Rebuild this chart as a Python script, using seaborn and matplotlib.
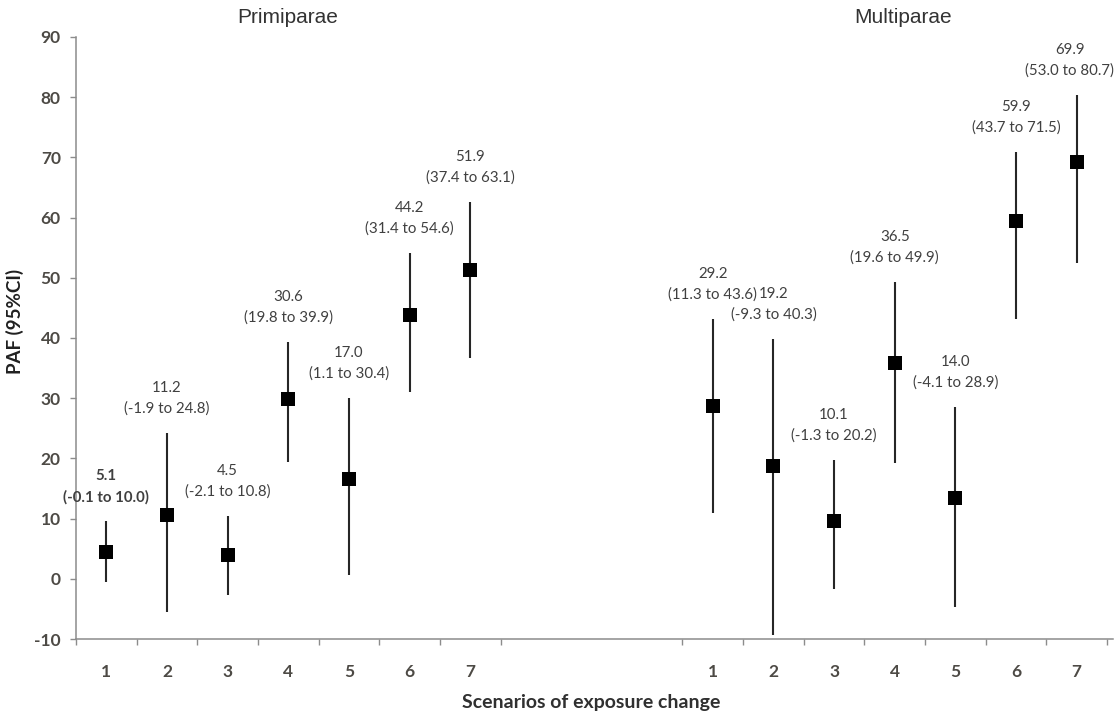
import matplotlib
matplotlib.use("Agg")
import pandas as pd
import matplotlib.pyplot as plt
import seaborn as sns

# scenarios of exposure change (same for both groups)
scenarios = ["1", "2", "3", "4", "5", "6", "7"]

# Primiparae - positions of the marks as drawn on the chart
prim_paf = [4.5, 10.6, 4.0, 29.9, 16.6, 43.9, 51.3]
prim_low = [-0.5, -5.5, -2.7, 19.4, 0.7, 31.0, 36.7]
prim_high = [9.6, 24.3, 10.5, 39.4, 30.1, 54.2, 62.6]
prim_est_txt = ["5.1", "11.2", "4.5", "30.6", "17.0", "44.2", "51.9"]
prim_ci_txt = ["(-0.1 to 10.0)", "(-1.9 to 24.8)", "(-2.1 to 10.8)", "(19.8 to 39.9)",
               "(1.1 to 30.4)", "(31.4 to 54.6)", "(37.4 to 63.1)"]

# Multiparae
multi_paf = [28.7, 18.8, 9.6, 35.9, 13.5, 59.5, 69.3]
multi_low = [11.0, -9.3, -1.7, 19.3, -4.6, 43.2, 52.5]
multi_high = [43.2, 39.9, 19.8, 49.3, 28.6, 70.9, 80.4]
multi_est_txt = ["29.2", "19.2", "10.1", "36.5", "14.0", "59.9", "69.9"]
multi_ci_txt = ["(11.3 to 43.6)", "(-9.3 to 40.3)", "(-1.3 to 20.2)", "(19.6 to 49.9)",
                "(-4.1 to 28.9)", "(43.7 to 71.5)", "(53.0 to 80.7)"]

# one category axis with a 3-slot gap between the two groups
GAP = 3
n = len(scenarios)
prim_pos = list(range(n))
multi_pos = [i + n + GAP for i in range(n)]

df = pd.DataFrame({
    "pos": prim_pos + multi_pos,
    "paf": prim_paf + multi_paf,
    "low": prim_low + multi_low,
    "high": prim_high + multi_high,
    "est": prim_est_txt + multi_est_txt,
    "ci": prim_ci_txt + multi_ci_txt,
    "group": ["Primiparae"] * n + ["Multiparae"] * n,
})

sns.set_style("ticks")
plt.rcParams["font.family"] = ["Lato", "DejaVu Sans"]
plt.rcParams["axes.unicode_minus"] = False

fig = plt.figure(figsize=(11.2, 7.18), dpi=100)
ax = fig.add_axes([0.0679, 0.110, 0.9259, 0.8385])

# CI lines then the squares on top
ax.vlines(df["pos"], df["low"], df["high"], color="#262626", linewidth=1.5, zorder=2)
sns.scatterplot(data=df, x="pos", y="paf", marker="s", s=88, color="black",
                linewidth=0, zorder=3, legend=False, ax=ax)

# value labels above each CI line (last one nudged left to stay inside the figure)
label_col = "#404040"
for i, row in df.iterrows():
    weight = "bold" if i == 0 else "normal"
    dx = -5 if i == len(df) - 1 else 0
    ax.annotate(row["ci"], xy=(row["pos"], row["high"]), xytext=(dx, 17.3),
                textcoords="offset points", ha="center", va="center",
                fontsize=10.8, color=label_col, fontweight=weight)
    ax.annotate(row["est"], xy=(row["pos"], row["high"]), xytext=(dx, 32.4),
                textcoords="offset points", ha="center", va="center",
                fontsize=10.8, color=label_col, fontweight=weight)

ax.set_xlim(-0.5, n * 2 + GAP - 0.4)
ax.set_ylim(-10, 90)
ax.set_yticks(range(-10, 91, 10))

# tick marks on category boundaries, labels at category centres
bounds = [p - 0.5 for p in prim_pos] + [n - 0.5] + [p - 0.5 for p in multi_pos] + [multi_pos[-1] + 0.5]
ax.set_xticks(bounds)
ax.set_xticklabels([])
ax.set_xticks(prim_pos + multi_pos, minor=True)
ax.set_xticklabels(scenarios + scenarios, minor=True)
ax.tick_params(axis="x", which="minor", length=0, pad=18)
ax.tick_params(axis="x", which="major", length=4.5, width=1, color="#8c8c8c")
ax.tick_params(axis="y", length=4, width=1, color="#8c8c8c", pad=7)

tick_col = "#4d4a45"
for lab in ax.get_xticklabels(minor=True) + ax.get_yticklabels():
    lab.set_fontsize(12.5)
    lab.set_fontweight("bold")
    lab.set_color(tick_col)

sns.despine(ax=ax)
for side in ["left", "bottom"]:
    ax.spines[side].set_color("#8c8c8c")
    ax.spines[side].set_linewidth(1.1)

ax.set_xlabel("Scenarios of exposure change", fontsize=14, fontweight="bold", color="#303030")
ax.set_ylabel("PAF (95%CI)", fontsize=13.5, fontweight="bold", color="#202020")
ax.xaxis.set_label_coords(0.4966, -0.1047)
ax.yaxis.set_label_coords(-0.0588, 0.528)
ax.xaxis.label.set_va("center")
ax.yaxis.label.set_va("center")

# group headings
fig.text(0.257, 0.976, "Primiparae", ha="center", va="center", fontsize=15,
         family="Liberation Sans", color="#333333")
fig.text(0.806, 0.976, "Multiparae", ha="center", va="center", fontsize=15,
         family="Liberation Sans", color="#333333")

fig.savefig("out.png", dpi=100)
